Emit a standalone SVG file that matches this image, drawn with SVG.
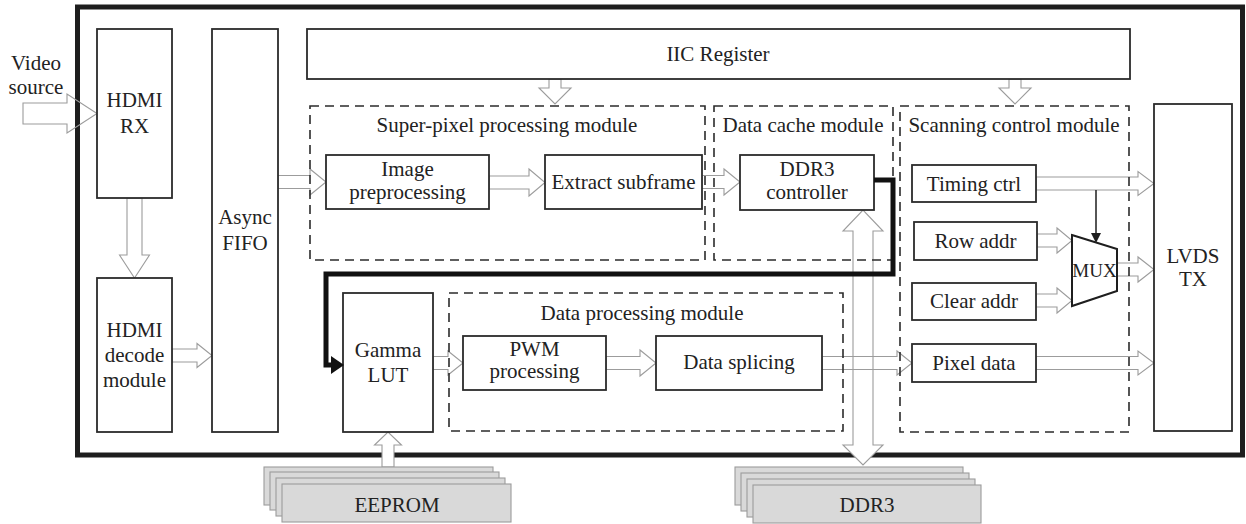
<svg xmlns="http://www.w3.org/2000/svg" width="1246" height="524" viewBox="0 0 1246 524" font-family="'Liberation Serif', 'DejaVu Serif', serif">
<style>
.box{fill:#fff;stroke:#2b2b2b;stroke-width:1.8}
.dash{fill:none;stroke:#2b2b2b;stroke-width:1.6;stroke-dasharray:9 6}
.arr{fill:none;stroke:#9c9c9c;stroke-width:1.1}
.arrw{fill:#fff;stroke:#9c9c9c;stroke-width:1.1}
.mem{fill:#d9d9d9;stroke:#9c9c9c;stroke-width:1.1}
text{font-family:'Liberation Serif', 'DejaVu Serif', serif;font-size:21px;fill:#222;text-anchor:middle}
</style>
<rect width="1246" height="524" fill="#fff"/>
<rect id="frame" x="77.5" y="7" width="1165" height="448" fill="none" stroke="#1e1e1e" stroke-width="5"/>

<g id="connectors">
  <polygon class="arr" points="23,103 67,103 67,94 97,113.5 67,133 67,124 23,124"/>
  <polygon class="arr" points="127,198 127,255 119.5,255 134.5,278 149.5,255 142,255 142,198"/>
  <polygon class="arr" points="172,349 197,349 197,343.5 212,355.5 197,367.5 197,362 172,362"/>
  <polygon class="arr" points="278,175.5 310,175.5 310,169 326,182 310,195 310,188.5 278,188.5"/>
  <polygon class="arr" points="489,176 529,176 529,169 545,182.5 529,196 529,189 489,189"/>
  <polygon class="arr" points="702,175.5 724,175.5 724,169 740,182 724,195 724,188.5 702,188.5"/>
  <polygon class="arr" points="549,79 549,88 539,88 555,104 571,88 561,88 561,79"/>
  <polygon class="arr" points="1009,79 1009,88 999,88 1015,104 1031,88 1021,88 1021,79"/>
  <polygon class="arr" points="1036,177 1138,177 1138,171.5 1154,183.5 1138,195.5 1138,190 1036,190"/>
  <polygon class="arr" points="1037,234 1057,234 1057,228 1072,240.5 1057,253 1057,247 1037,247"/>
  <polygon class="arr" points="1036,294 1057,294 1057,288 1072,300.5 1057,313 1057,307 1036,307"/>
  <polygon class="arr" points="1117,263 1138,263 1138,257 1154,269.5 1138,282 1138,276 1117,276"/>
  <polygon class="arr" points="1036,356.5 1138,356.5 1138,351 1154,363 1138,375 1138,369.5 1036,369.5"/>
  <polygon class="arr" points="433,356.5 448,356.5 448,351 463,363 448,375 448,369.5 433,369.5"/>
  <polygon class="arr" points="606,356.5 640,356.5 640,350 656,363 640,376 640,369.5 606,369.5"/>
  <polygon class="arrw" points="382,467 382,445 374.5,445 388,432 401.5,445 394,445 394,467"/>
  <polygon class="arrw" points="853,231 843,231 863,210 883,231 873,231 873,445 883,445 863,465 843,445 853,445"/>
  <polygon class="arr" points="822,356.5 897,356.5 897,351 912,363 897,375 897,369.5 822,369.5"/>
  <line x1="1096" y1="190" x2="1096" y2="234" stroke="#1e1e1e" stroke-width="1.5"/>
  <polygon points="1091,233 1101,233 1096,243" fill="#1e1e1e"/>
</g>

<g id="super-pixel-module">
  <rect class="dash" x="310" y="106" width="395" height="154"/>
  <text x="507" y="132">Super-pixel processing module</text>
</g>
<g id="data-cache-module">
  <rect class="dash" x="714" y="106" width="179" height="154"/>
  <text x="803" y="132">Data cache module</text>
</g>
<g id="scanning-control-module">
  <rect class="dash" x="900" y="106" width="229" height="326"/>
  <text x="1014" y="132">Scanning control module</text>
</g>
<g id="data-processing-module">
  <rect class="dash" x="449" y="293" width="394" height="138"/>
  <text x="642" y="320">Data processing module</text>
</g>

<g id="video-source">
  <text x="36" y="70">Video</text>
  <text x="36" y="94">source</text>
</g>
<g id="hdmi-rx">
  <rect class="box" x="97" y="29" width="75" height="169"/>
  <text x="134.5" y="107">HDMI</text>
  <text x="134.5" y="133">RX</text>
</g>
<g id="hdmi-decode">
  <rect class="box" x="97" y="278" width="75" height="154"/>
  <text x="134.5" y="337">HDMI</text>
  <text x="134.5" y="362">decode</text>
  <text x="134.5" y="387">module</text>
</g>
<g id="async-fifo">
  <rect class="box" x="212" y="29" width="66" height="403"/>
  <text x="245" y="224">Async</text>
  <text x="245" y="250">FIFO</text>
</g>
<g id="iic-register">
  <rect class="box" x="307" y="29" width="823" height="50"/>
  <text x="718" y="61">IIC Register</text>
</g>
<g id="image-preprocessing">
  <rect class="box" x="326" y="155" width="163" height="54"/>
  <text x="407.5" y="176">Image</text>
  <text x="407.5" y="199">preprocessing</text>
</g>
<g id="extract-subframe">
  <rect class="box" x="545" y="155" width="157" height="54"/>
  <text x="623.5" y="189">Extract subframe</text>
</g>
<g id="ddr3-controller">
  <rect class="box" x="740" y="155" width="134" height="55"/>
  <text x="807" y="176">DDR3</text>
  <text x="807" y="199">controller</text>
</g>
<g id="timing-ctrl">
  <rect class="box" x="912" y="165" width="124" height="37"/>
  <text x="974" y="191">Timing ctrl</text>
</g>
<g id="row-addr">
  <rect class="box" x="914" y="222" width="123" height="38"/>
  <text x="975.5" y="248">Row addr</text>
</g>
<g id="clear-addr">
  <rect class="box" x="912" y="283" width="124" height="37"/>
  <text x="974" y="308">Clear addr</text>
</g>
<g id="pixel-data">
  <rect class="box" x="912" y="344" width="124" height="38"/>
  <text x="974" y="370">Pixel data</text>
</g>
<g id="mux">
  <polygon points="1072,235 1117,249 1117,291 1072,306" fill="#fff" stroke="#1e1e1e" stroke-width="2"/>
  <text x="1094.5" y="277" style="font-size:19px">MUX</text>
</g>
<g id="lvds-tx">
  <rect class="box" x="1154" y="104" width="78" height="327"/>
  <text x="1193" y="263">LVDS</text>
  <text x="1193" y="286">TX</text>
</g>
<g id="gamma-lut">
  <rect class="box" x="343" y="293" width="90" height="139"/>
  <text x="388" y="357">Gamma</text>
  <text x="388" y="382">LUT</text>
</g>
<g id="pwm-processing">
  <rect class="box" x="463" y="336" width="143" height="54"/>
  <text x="534.5" y="356">PWM</text>
  <text x="534.5" y="378">processing</text>
</g>
<g id="data-splicing">
  <rect class="box" x="656" y="336" width="166" height="54"/>
  <text x="739" y="369">Data splicing</text>
</g>
<g id="eeprom">
  <rect class="mem" x="264" y="467" width="229" height="38"/>
  <rect class="mem" x="270" y="472" width="229" height="38"/>
  <rect class="mem" x="276" y="478" width="229" height="38"/>
  <rect class="mem" x="282" y="484" width="229" height="38"/>
  <text x="397" y="512">EEPROM</text>
</g>
<g id="ddr3">
  <rect class="mem" x="735" y="467" width="228" height="38"/>
  <rect class="mem" x="741" y="473" width="228" height="38"/>
  <rect class="mem" x="747" y="479" width="228" height="38"/>
  <rect class="mem" x="753" y="485" width="228" height="38"/>
  <text x="867" y="512">DDR3</text>
</g>

<g id="thick-connector">
  <path d="M874,180 H893 V274 H326 V365 H333" fill="none" stroke="#111" stroke-width="5"/>
  <polygon points="331,356 344,365 331,374" fill="#111"/>
</g>
</svg>
